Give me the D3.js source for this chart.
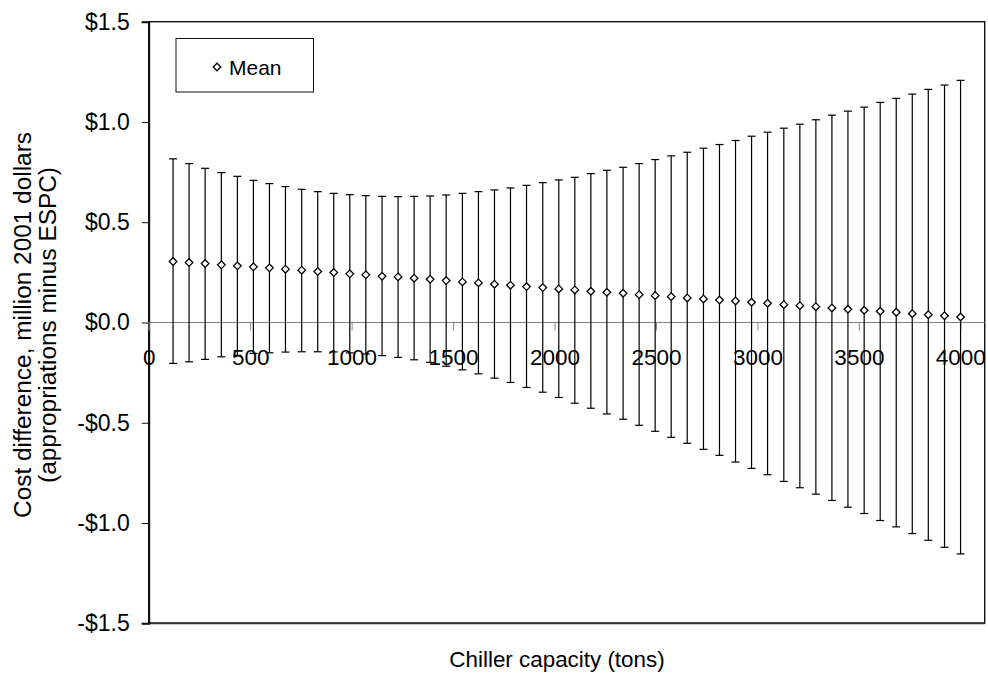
<!DOCTYPE html>
<html>
<head>
<meta charset="utf-8">
<script src="https://cdn.jsdelivr.net/npm/d3@7"></script>
<style>
  html, body { margin: 0; padding: 0; background: #fff; }
  svg { display: block; font-family: "Liberation Sans", Arial, sans-serif; }
</style>
</head>
<body>
<svg id="chart" width="988" height="677"></svg>
<script>
// Chiller capacity (tons) for each simulated case
const capacity = [120, 199, 278, 358, 437, 516, 595, 674, 754, 833,
  912, 991, 1070, 1150, 1229, 1308, 1387, 1466, 1546, 1625,
  1704, 1783, 1862, 1942, 2021, 2100, 2179, 2258, 2338, 2417,
  2496, 2575, 2654, 2734, 2813, 2892, 2971, 3050, 3130, 3209,
  3288, 3367, 3446, 3526, 3605, 3684, 3763, 3842, 3922, 4001];

// Mean cost difference, million 2001 dollars
const meanDiff = [0.304, 0.299, 0.294, 0.2875, 0.2825, 0.2775, 0.2725, 0.266, 0.261, 0.254,
  0.249, 0.2425, 0.2375, 0.231, 0.2275, 0.221, 0.216, 0.209, 0.2025, 0.1975,
  0.191, 0.186, 0.179, 0.174, 0.1675, 0.1625, 0.156, 0.151, 0.146, 0.139,
  0.134, 0.129, 0.1225, 0.1175, 0.112, 0.1075, 0.101, 0.096, 0.089, 0.084,
  0.079, 0.0725, 0.066, 0.061, 0.056, 0.051, 0.044, 0.039, 0.034, 0.0275];

// Upper end of the range
const upperDiff = [0.816, 0.7925, 0.769, 0.7475, 0.729, 0.709, 0.6925, 0.6775, 0.664, 0.6525,
  0.644, 0.6375, 0.6325, 0.629, 0.6275, 0.629, 0.631, 0.636, 0.644, 0.6525,
  0.661, 0.671, 0.684, 0.6975, 0.711, 0.724, 0.7425, 0.759, 0.774, 0.7925,
  0.8125, 0.831, 0.849, 0.869, 0.8875, 0.9075, 0.929, 0.949, 0.969, 0.989,
  1.011, 1.034, 1.054, 1.074, 1.0975, 1.1175, 1.139, 1.1625, 1.184, 1.2075];

// Lower end of the range
const lowerDiff = [-0.204, -0.196, -0.184, -0.171, -0.164, -0.154, -0.151, -0.1475, -0.146, -0.146,
  -0.1465, -0.1515, -0.157, -0.165, -0.174, -0.186, -0.199, -0.218, -0.236, -0.256,
  -0.2775, -0.299, -0.324, -0.3475, -0.374, -0.4025, -0.4275, -0.456, -0.4825, -0.5125,
  -0.5425, -0.5725, -0.6025, -0.6325, -0.6625, -0.696, -0.7275, -0.759, -0.7925, -0.824,
  -0.856, -0.8875, -0.921, -0.9525, -0.9875, -1.019, -1.0525, -1.086, -1.121, -1.154];

const xTicks = [0, 500, 1000, 1500, 2000, 2500, 3000, 3500, 4000];
const yTicks = [-1.5, -1.0, -0.5, 0.0, 0.5, 1.0, 1.5];

const data = capacity.map((c, i) => ({ c, mean: meanDiff[i], lo: lowerDiff[i], hi: upperDiff[i] }));

const svg = d3.select("#chart");
const plot = { left: 148.7, right: 984.7, top: 21.7, bottom: 623.3 };

const x = d3.scaleLinear().domain([0, 4120]).range([plot.left, plot.right]);
const y = d3.scaleLinear().domain([-1.5, 1.5]).range([plot.bottom, plot.top]);

const fmt = v => (v < 0 ? "-$" : "$") + Math.abs(v).toFixed(1);

// plot frame
svg.append("rect")
  .attr("x", plot.left).attr("y", plot.top)
  .attr("width", plot.right - plot.left).attr("height", plot.bottom - plot.top)
  .attr("fill", "#fff").attr("stroke", "#111").attr("stroke-width", 1.4);
svg.append("line")
  .attr("x1", plot.left).attr("x2", plot.right)
  .attr("y1", plot.bottom).attr("y2", plot.bottom)
  .attr("stroke", "#333").attr("stroke-width", 2);

// y axis
const yAxis = svg.append("g")
  .attr("transform", `translate(${plot.left},0)`)
  .call(d3.axisLeft(y).tickValues(yTicks).tickFormat(fmt).tickSize(7).tickPadding(12));
yAxis.select(".domain").attr("stroke", "#111").attr("stroke-width", 2);
yAxis.selectAll(".tick line").attr("stroke", "#111");
yAxis.selectAll("text").attr("font-size", 23).attr("fill", "#000")
  .attr("font-family", "Liberation Sans, Arial, sans-serif");

// x axis along the zero line
const xAxis = svg.append("g")
  .attr("transform", `translate(0,${y(0)})`)
  .call(d3.axisBottom(x).tickValues(xTicks).tickFormat(d3.format("d")).tickSize(8).tickPadding(19));
xAxis.select(".domain").remove();
xAxis.selectAll(".tick line").attr("stroke", "#888");
xAxis.selectAll("text").attr("font-size", 22.5).attr("fill", "#000")
  .attr("font-family", "Liberation Sans, Arial, sans-serif");
svg.append("line")
  .attr("x1", plot.left).attr("x2", plot.right)
  .attr("y1", y(0)).attr("y2", y(0))
  .attr("stroke", "#808080").attr("stroke-width", 1.2);

// error bars
const bars = svg.append("g").attr("stroke", "#000").attr("stroke-width", 1.2);
bars.selectAll("line.v").data(data).join("line")
  .attr("class", "v")
  .attr("x1", d => x(d.c)).attr("x2", d => x(d.c))
  .attr("y1", d => y(d.hi)).attr("y2", d => y(d.lo));
bars.selectAll("line.hi").data(data).join("line")
  .attr("class", "hi")
  .attr("x1", d => x(d.c) - 4).attr("x2", d => x(d.c) + 4)
  .attr("y1", d => y(d.hi)).attr("y2", d => y(d.hi));
bars.selectAll("line.lo").data(data).join("line")
  .attr("class", "lo")
  .attr("x1", d => x(d.c) - 4).attr("x2", d => x(d.c) + 4)
  .attr("y1", d => y(d.lo)).attr("y2", d => y(d.lo));

// mean markers
const diamond = "M0,-3.8L3.8,0L0,3.8L-3.8,0Z";
svg.append("g").selectAll("path").data(data).join("path")
  .attr("d", diamond)
  .attr("transform", d => `translate(${x(d.c)},${y(d.mean)})`)
  .attr("fill", "#fff").attr("stroke", "#000").attr("stroke-width", 1.3);

// legend
const lg = svg.append("g");
lg.append("rect").attr("x", 176).attr("y", 38.5).attr("width", 137.5).attr("height", 53.5)
  .attr("fill", "#fff").attr("stroke", "#111").attr("stroke-width", 1);
lg.append("path").attr("d", diamond).attr("transform", "translate(217,67)")
  .attr("fill", "#fff").attr("stroke", "#000").attr("stroke-width", 1.3);
lg.append("text").attr("x", 229).attr("y", 74.5).attr("font-size", 21).text("Mean");

// axis titles
svg.append("text")
  .attr("x", 557).attr("y", 667)
  .attr("text-anchor", "middle").attr("font-size", 22.4)
  .text("Chiller capacity (tons)");

const yTitle = svg.append("text")
  .attr("transform", "translate(0,325) rotate(-90)")
  .attr("text-anchor", "middle").attr("font-size", 24.4);
yTitle.append("tspan").attr("x", 0).attr("y", 31).text("Cost difference, million 2001 dollars");
yTitle.append("tspan").attr("x", 0).attr("y", 56).text("(appropriations minus ESPC)");
</script>
</body>
</html>
